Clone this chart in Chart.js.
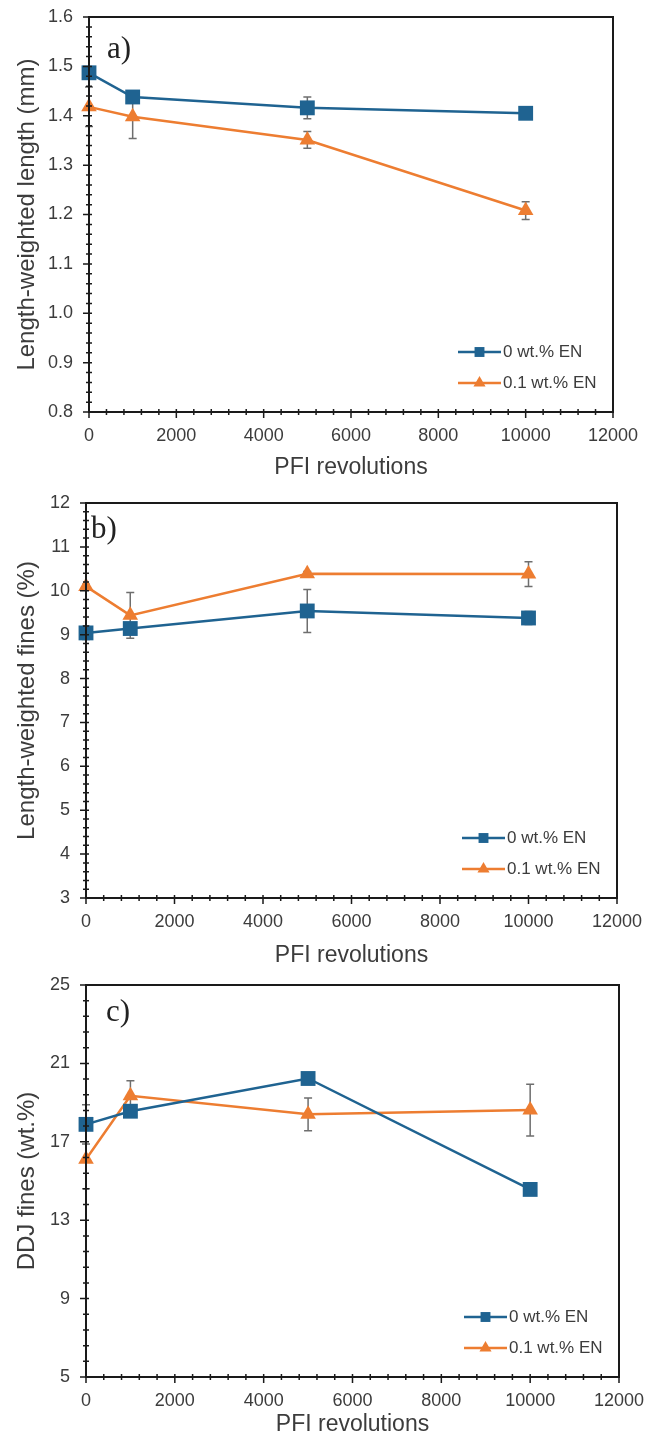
<!DOCTYPE html>
<html>
<head>
<meta charset="utf-8">
<script src="https://cdn.jsdelivr.net/npm/chart.js@4.4.1/dist/chart.umd.min.js"></script>
<style>
  body { margin: 0; background: #fff; }
  #wrap { position: relative; width: 661px; height: 1443px; overflow: hidden; }
  canvas { position: absolute; left: 0; }
</style>
</head>
<body>
<div id="wrap">
  <canvas id="panelA" width="661" height="481" style="top:0px"></canvas>
  <canvas id="panelB" width="661" height="500" style="top:481px"></canvas>
  <canvas id="panelC" width="661" height="481" style="top:962px"></canvas>
</div>
<script>
// shared x values + legend names
const revolutions = [0, 1000, 5000, 10000];
const seriesNames = ['0 wt.% EN', '0.1 wt.% EN'];
const xTicks = [0, 2000, 4000, 6000, 8000, 10000, 12000];

// a) length-weighted length (mm)
const lengthNoEN = [1.487, 1.438, 1.416, 1.405];
const lengthEN = [1.418, 1.398, 1.351, 1.208];
const lengthNoENErr = [0.01, 0.01, 0.022, 0.008];
const lengthENErr = [0.04, 0.044, 0.017, 0.018];
const yTicksA = [0.8, 0.9, 1.0, 1.1, 1.2, 1.3, 1.4, 1.5, 1.6];

// b) length-weighted fines (%)
const finesNoEN = [9.04, 9.14, 9.54, 9.38];
const finesEN = [10.10, 9.44, 10.39, 10.38];
const finesNoENErr = [0.15, 0.12, 0.49, 0.15];
const finesENErr = [0.05, 0.52, 0.05, 0.28];
const yTicksB = [3, 4, 5, 6, 7, 8, 9, 10, 11, 12];

// c) DDJ fines (wt.%)
const ddjNoEN = [17.89, 18.56, 20.23, 14.57];
const ddjEN = [16.11, 19.35, 18.40, 18.62];
const ddjNoENErr = [1.0, 0.3, 0.2, 0.2];
const ddjENErr = [1.5, 0.77, 0.83, 1.32];
const yTicksC = [5, 9, 13, 17, 21, 25];

const blue = '#1f6391';
const orange = '#ed7d31';
const textColor = '#3c3c3c';

Chart.defaults.font.family = '"Liberation Sans", Arial, sans-serif';
Chart.defaults.color = textColor;

// error bars, box, minor ticks, in-plot legend and panel letter
const panelDecor = {
  id: 'panelDecor',
  beforeDatasetsDraw(chart, args, opts) {
    const {ctx, scales: {x, y}} = chart;
    ctx.save();
    ctx.strokeStyle = '#6e6e6e';
    ctx.lineWidth = 1.5;
    chart.data.datasets.forEach((ds, i) => {
      const err = opts.errors[i];
      ds.data.forEach((p, j) => {
        if (!err[j]) return;
        const px = x.getPixelForValue(p.x);
        const hi = y.getPixelForValue(p.y + err[j]);
        const lo = y.getPixelForValue(p.y - err[j]);
        ctx.beginPath();
        ctx.moveTo(px, hi); ctx.lineTo(px, lo);
        ctx.moveTo(px - 4, hi); ctx.lineTo(px + 4, hi);
        ctx.moveTo(px - 4, lo); ctx.lineTo(px + 4, lo);
        ctx.stroke();
      });
    });
    ctx.restore();
  },
  afterDraw(chart, args, opts) {
    const {ctx, chartArea: a, scales: {x, y}} = chart;
    ctx.save();
    ctx.strokeStyle = '#1a1a1a';
    ctx.lineWidth = 1.5;
    ctx.beginPath();
    // minor ticks (cross)
    let n = Math.round((x.max - x.min) / opts.xMinor);
    for (let k = 0; k <= n; k++) {
      const px = x.getPixelForValue(x.min + k * opts.xMinor);
      ctx.moveTo(px, a.bottom - 3); ctx.lineTo(px, a.bottom + 3);
    }
    n = Math.round((y.max - y.min) / opts.yMinor);
    for (let k = 0; k <= n; k++) {
      const py = y.getPixelForValue(y.min + k * opts.yMinor);
      ctx.moveTo(a.left - 3, py); ctx.lineTo(a.left + 3, py);
    }
    // major ticks
    x.ticks.forEach(t => {
      const px = x.getPixelForValue(t.value);
      ctx.moveTo(px, a.bottom - 3); ctx.lineTo(px, a.bottom + 6);
    });
    y.ticks.forEach(t => {
      const py = y.getPixelForValue(t.value);
      ctx.moveTo(a.left - 6, py); ctx.lineTo(a.left + 3, py);
    });
    ctx.stroke();

    ctx.lineWidth = 2;
    ctx.strokeRect(a.left, a.top, a.right - a.left, a.bottom - a.top);

    // legend in lower right of plot
    const rows = [a.bottom - 60, a.bottom - 29];
    const x0 = a.right - 155, x1 = a.right - 112;
    chart.data.datasets.forEach((ds, i) => {
      const ly = rows[i];
      ctx.strokeStyle = ds.borderColor;
      ctx.lineWidth = 2.5;
      ctx.beginPath();
      ctx.moveTo(x0, ly); ctx.lineTo(x1, ly);
      ctx.stroke();
      ctx.fillStyle = ds.backgroundColor;
      Chart.helpers.drawPoint(ctx, {
        pointStyle: ds.pointStyle,
        radius: 7,
        rotation: 0,
        borderWidth: 0
      }, (x0 + x1) / 2, ly);
      ctx.fillStyle = textColor;
      ctx.font = '17px "Liberation Sans", Arial, sans-serif';
      ctx.textAlign = 'left';
      ctx.textBaseline = 'middle';
      ctx.fillText(ds.label, x1 + 2, ly);
    });

    ctx.fillStyle = '#222';
    ctx.font = '31px "Liberation Serif", "Times New Roman", serif';
    ctx.textAlign = 'left';
    ctx.textBaseline = 'middle';
    ctx.fillText(opts.letter, opts.letterX, opts.letterY);
    ctx.restore();
  }
};

function makePanel(id, P) {
  const canvas = document.getElementById(id);
  return new Chart(canvas, {
    type: 'line',
    data: {
      datasets: [{
        label: seriesNames[0],
        data: revolutions.map((r, i) => ({x: r, y: P.noEN[i]})),
        borderColor: blue,
        backgroundColor: blue,
        borderWidth: 2.5,
        pointStyle: 'rect',
        pointRadius: 10.5,
        pointBorderWidth: 0,
        pointHoverRadius: 10.5,
        clip: false
      }, {
        label: seriesNames[1],
        data: revolutions.map((r, i) => ({x: r, y: P.withEN[i]})),
        borderColor: orange,
        backgroundColor: orange,
        borderWidth: 2.5,
        pointStyle: 'triangle',
        pointRadius: 9,
        pointBorderWidth: 0,
        pointHoverRadius: 9,
        clip: false
      }]
    },
    options: {
      responsive: false,
      animation: false,
      devicePixelRatio: 1,
      layout: {padding: {top: P.top, right: canvas.width - P.right, bottom: 0, left: 0}},
      plugins: {
        legend: {display: false},
        tooltip: {enabled: false},
        panelDecor: {
          errors: [P.noENErr, P.withENErr],
          xMinor: 400,
          yMinor: P.yMinor,
          letter: P.letter,
          letterX: P.letterX,
          letterY: P.letterY
        }
      },
      scales: {
        x: {
          type: 'linear',
          min: 0,
          max: 12000,
          afterBuildTicks: s => { s.ticks = xTicks.map(v => ({value: v})); },
          afterFit: s => { s.height = canvas.height - P.bottom; },
          grid: {display: false, drawTicks: false},
          border: {display: false},
          ticks: {font: {size: 18}, padding: 13, color: textColor, maxRotation: 0, autoSkip: false,
                  callback: v => String(v)},
          title: {
            display: true,
            text: 'PFI revolutions',
            color: textColor,
            font: {size: 23},
            padding: {top: 0, bottom: P.titleBottom}
          }
        },
        y: {
          type: 'linear',
          min: P.yTicks[0],
          max: P.yTicks[P.yTicks.length - 1],
          afterBuildTicks: s => { s.ticks = P.yTicks.map(v => ({value: v})); },
          // fixed axis width; drop the label padding so the plot top is not pushed down
          afterFit: s => { s.width = P.left; s.paddingTop = 0; s.paddingBottom = 0; },
          grid: {display: false, drawTicks: false},
          border: {display: false},
          ticks: {font: {size: 18}, padding: 16, color: textColor, callback: P.fmt},
          title: {
            display: true,
            text: P.yTitle,
            color: textColor,
            font: {size: 24},
            padding: {top: 12.6, bottom: 0}
          }
        }
      }
    },
    plugins: [panelDecor]
  });
}

makePanel('panelA', {
  noEN: lengthNoEN, withEN: lengthEN, noENErr: lengthNoENErr, withENErr: lengthENErr,
  yTicks: yTicksA, yMinor: 0.02, fmt: v => Number(v).toFixed(1),
  yTitle: 'Length-weighted length (mm)',
  top: 17, left: 89, right: 613, bottom: 412, titleBottom: 0,
  letter: 'a)', letterX: 107, letterY: 50
});

makePanel('panelB', {
  noEN: finesNoEN, withEN: finesEN, noENErr: finesNoENErr, withENErr: finesENErr,
  yTicks: yTicksB, yMinor: 0.2, fmt: v => String(v),
  yTitle: 'Length-weighted fines (%)',
  top: 22, left: 86, right: 617, bottom: 417, titleBottom: 12,
  letter: 'b)', letterX: 91, letterY: 49
});

makePanel('panelC', {
  noEN: ddjNoEN, withEN: ddjEN, noENErr: ddjNoENErr, withENErr: ddjENErr,
  yTicks: yTicksC, yMinor: 0.8, fmt: v => String(v),
  yTitle: 'DDJ fines (wt.%)',
  top: 23, left: 86, right: 619, bottom: 415, titleBottom: 5,
  letter: 'c)', letterX: 106, letterY: 51
});
</script>
</body>
</html>
